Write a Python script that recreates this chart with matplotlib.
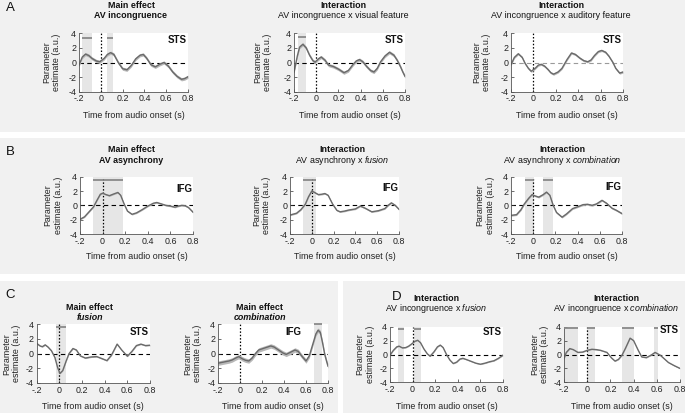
import matplotlib
matplotlib.use("Agg")
import numpy as np
import matplotlib.pyplot as plt
from matplotlib.patches import Rectangle

plt.rcParams['font.family'] = ['Liberation Sans', 'DejaVu Sans']
plt.rcParams['mathtext.fontset'] = 'custom'
plt.rcParams['mathtext.rm'] = 'Liberation Sans'
plt.rcParams['mathtext.it'] = 'Liberation Sans:italic'
plt.rcParams['mathtext.bf'] = 'Liberation Sans:bold'

# ---------------- data ----------------
XTICKS = [-0.2, 0, 0.2, 0.4, 0.6, 0.8]
XTICKLABELS = ['-.2', '0', '0.2', '0.4', '0.6', '0.8']
YTICKS = [-4, -2, 0, 2, 4]
YTICKLABELS = ['-4', '-2', '0', '2', '4']

A1_t = [-0.2, -0.17, -0.14, -0.11, -0.08, -0.04, -0.01, 0.03, 0.06, 0.09, 0.12, 0.16, 0.2, 0.24, 0.28,
        0.32, 0.36, 0.39, 0.42, 0.46, 0.5, 0.54, 0.58, 0.62, 0.66, 0.7, 0.74, 0.77, 0.8]
A1_y = [-0.35, 0.75, 1.15, 0.95, 0.55, 0.2, 0.1, 0.55, 1.1, 1.35, 1.1, 0.0, -0.85, -1.0, -0.4,
        0.5, 1.0, 1.1, 0.6, -0.3, -0.6, -0.25, 0.0, -0.5, -1.3, -1.9, -2.3, -2.2, -1.95]
A1_sig = [(-0.175, -0.085), (0.061, 0.115)]

A2_t = [-0.2, -0.19, -0.17, -0.15, -0.12, -0.09, -0.06, -0.03, -0.01, 0.02, 0.045, 0.08, 0.11, 0.155,
        0.2, 0.25, 0.29, 0.33, 0.36, 0.39, 0.42, 0.455, 0.49, 0.52, 0.55, 0.58, 0.62, 0.66, 0.7,
        0.73, 0.76, 0.78, 0.8]
A2_y = [-1.3, -0.6, 0.9, 2.1, 2.5, 2.0, 1.0, 0.25, 0.05, 0.5, 0.75, 0.3, -0.35, -0.55,
        -0.9, -1.4, -1.1, -0.3, 0.2, 0.4, 0.1, -0.55, -1.1, -1.3, -0.8, 0.1, 0.9, 1.4, 1.0,
        0.3, -0.6, -1.3, -1.9]
A2_sig = [(-0.165, -0.093)]

A3_t = [-0.2, -0.17, -0.135, -0.1, -0.075, -0.045, -0.02, 0.015, 0.045, 0.07, 0.1, 0.13, 0.155, 0.18,
        0.22, 0.255, 0.3, 0.34, 0.375, 0.415, 0.45, 0.485, 0.515, 0.545, 0.58, 0.61, 0.645, 0.675,
        0.71, 0.735, 0.77, 0.8]
A3_y = [-0.3, 0.7, 1.2, 0.7, -0.1, -0.8, -1.2, -0.8, -0.35, -0.25, -0.5, -0.95, -1.4, -1.6,
        -1.3, -0.8, 0.4, 1.3, 1.1, 0.6, 0.25, 0.1, 0.35, 0.95, 1.5, 1.65, 1.4, 0.85,
        0.0, -0.8, -1.45, -1.3]
A3_sig = []

B1_t = [-0.2, -0.16, -0.12, -0.08, -0.05, -0.02, 0.0, 0.03, 0.06, 0.1, 0.135, 0.16, 0.19, 0.22, 0.26,
        0.3, 0.35, 0.4, 0.45, 0.48, 0.52, 0.56, 0.6, 0.64, 0.67, 0.7, 0.73, 0.76, 0.8]
B1_y = [-1.95, -1.6, -0.9, -0.2, 0.7, 1.55, 1.7, 1.5, 1.35, 1.6, 1.8, 1.4, 0.2, -0.8, -1.25,
        -1.05, -0.6, -0.1, 0.3, 0.4, 0.2, 0.0, -0.1, -0.25, -0.1, 0.0, -0.05, -0.3, -0.95]
B1_sig = [(-0.082, 0.179)]

B2_t = [-0.2, -0.14, -0.1, -0.06, -0.03, 0.0, 0.02, 0.06, 0.09, 0.12, 0.15, 0.19, 0.23, 0.26, 0.3,
        0.34, 0.4, 0.445, 0.49, 0.55, 0.61, 0.67, 0.7, 0.73, 0.765, 0.8]
B2_y = [-1.35, -1.1, -0.6, 0.15, 1.2, 2.0, 1.85, 1.5, 1.55, 1.65, 1.4, 0.2, -0.7, -0.9, -0.8,
        -0.65, -0.5, -0.1, -0.4, -0.9, -0.75, -0.45, 0.0, 0.35, 0.0, -0.55]
B2_sig = [(-0.083, 0.037)]

B3_t = [-0.2, -0.15, -0.11, -0.08, -0.04, -0.01, 0.02, 0.05, 0.09, 0.12, 0.15, 0.18, 0.21, 0.26, 0.3,
        0.355, 0.4, 0.45, 0.49, 0.53, 0.57, 0.62, 0.66, 0.71, 0.75, 0.8]
B3_y = [-1.4, -1.3, -0.6, 0.2, 1.0, 1.5, 1.3, 1.15, 1.5, 1.85, 1.4, 0.0, -1.0, -1.65, -1.2,
        -0.45, -0.2, 0.1, 0.15, 0.0, 0.2, 0.7, 0.3, -0.4, -0.7, -1.15]
B3_sig = [(-0.07, 0.005), (0.085, 0.178)]

C1_t = [-0.2, -0.17, -0.15, -0.125, -0.1, -0.07, -0.04, -0.015, 0.005, 0.03, 0.06, 0.085, 0.12, 0.15,
        0.185, 0.23, 0.28, 0.33, 0.38, 0.42, 0.46, 0.51, 0.55, 0.6, 0.64, 0.68, 0.72, 0.76, 0.8]
C1_y = [1.4, 1.05, 0.95, 1.2, 0.9, 0.4, -0.5, -1.9, -2.7, -2.3, -1.0, 0.0, 0.7, 0.5,
        -0.3, -0.6, -0.45, -0.4, -0.7, -0.95, -0.2, 1.3, 0.5, -0.35, 0.3, 1.1, 1.3, 1.1, 1.15]
C1_sig = [(-0.03, 0.06)]

C2_t = [-0.2, -0.15, -0.1, -0.07, -0.04, -0.01, 0.02, 0.05, 0.08, 0.11, 0.14, 0.17, 0.21, 0.25, 0.28,
        0.31, 0.35, 0.39, 0.42, 0.46, 0.5, 0.53, 0.56, 0.6, 0.63, 0.66, 0.69, 0.71, 0.73, 0.75,
        0.77, 0.79, 0.8]
C2_y = [-1.3, -1.15, -1.0, -0.85, -0.6, -0.4, -0.7, -0.9, -1.0, -0.6, 0.0, 0.5, 0.7, 0.9, 1.05,
        0.9, 0.5, 0.1, -0.1, 0.2, 0.5, 0.3, -0.3, -1.0, -0.3, 1.2, 2.7, 3.2, 2.9, 1.5,
        -0.1, -1.2, -1.7]
C2_sig = [(0.673, 0.744)]

D1_t = [-0.2, -0.17, -0.14, -0.12, -0.09, -0.06, -0.035, -0.01, 0.02, 0.045, 0.07, 0.1, 0.13, 0.155,
        0.19, 0.22, 0.245, 0.27, 0.3, 0.33, 0.36, 0.39, 0.42, 0.445, 0.48, 0.52, 0.56, 0.6, 0.64,
        0.68, 0.72, 0.76, 0.8]
D1_y = [-0.1, 0.6, 1.1, 1.2, 0.95, 1.0, 1.2, 1.5, 1.9, 2.05, 1.7, 0.8, 0.1, -0.25,
        0.4, 1.1, 1.35, 1.0, 0.0, -0.8, -1.3, -1.1, -0.65, -0.55, -0.75, -1.0, -1.25, -1.4, -1.25,
        -1.05, -0.9, -0.55, -0.1]
D1_sig = [(-0.132, -0.079), (0.009, 0.073)]

D2_t = [-0.2, -0.18, -0.15, -0.12, -0.08, -0.04, 0.0, 0.04, 0.08, 0.115, 0.17, 0.21, 0.24, 0.27, 0.3,
        0.33, 0.37, 0.4, 0.44, 0.47, 0.51, 0.55, 0.585, 0.63, 0.67, 0.7, 0.75, 0.8]
D2_y = [-0.6, 0.3, 0.85, 0.7, 0.3, 0.35, 0.6, 0.75, 0.7, 0.6, 0.3, -0.5, -0.95, -0.7, -0.1,
        0.9, 2.35, 2.0, 0.6, -0.35, -0.45, -0.1, 0.3, -0.1, -0.7, -1.15, -1.6, -2.0]
D2_sig = [(-0.2, -0.08), (0.0, 0.07), (0.3, 0.405), (0.577, 0.614)]

# ---------------- layout (pixels) ----------------
W, H = 685, 413
fig = plt.figure(figsize=(W / 100, H / 100), dpi=100, facecolor='white')

BG = '#f1f1f1'
for (x0, y0, x1, y1) in [(0, 0, 685, 132), (0, 138, 685, 274), (0, 281, 338, 413), (343, 281, 685, 413)]:
    fig.patches.append(Rectangle((x0 / W, 1 - y1 / H), (x1 - x0) / W, (y1 - y0) / H,
                                 transform=fig.transFigure, facecolor=BG, edgecolor='none', zorder=-10))

FS = 6.4
panels = [
    dict(t=A1_t, y=A1_y, sig=A1_sig, sem=0.22, bary=3.35, box=(79, 188, 33.3, 91.7),
         l1='Main effect', l2='AV incongruence', l2bold=True, tx=131, ty=(5, 15),
         roi='STS', roiy=40, ylx=51.7, xly=115.7, zc='black'),
    dict(t=A2_t, y=A2_y, sig=A2_sig, sem=0.22, bary=3.45, box=(294, 405, 33.3, 91.7),
         l1='Interaction', l2='AV incongruence x visual feature', l2bold=False, tx=343, ty=(5, 15),
         roi='STS', roiy=40, ylx=262.5, xly=115.7, zc='black'),
    dict(t=A3_t, y=A3_y, sig=A3_sig, sem=0.15, bary=3.45, box=(511, 623, 33.3, 91.7),
         l1='Interaction', l2='AV incongruence x auditory feature', l2bold=False, tx=561, ty=(5, 15),
         roi='STS', roiy=40, ylx=481.7, xly=115.7, zc='#9a9a9a'),
    dict(t=B1_t, y=B1_y, sig=B1_sig, sem=0.1, bary=3.6, box=(80, 193, 176.7, 234),
         l1='Main effect', l2='AV asynchrony', l2bold=True, tx=131, ty=(150, 160),
         roi='IFG', roiy=189, ylx=53.3, xly=256.7, zc='black'),
    dict(t=B2_t, y=B2_y, sig=B2_sig, sem=0.1, bary=3.6, box=(290, 399, 176.7, 234),
         l1='Interaction', l2=r'AV asynchrony x $\it{fusion}$', l2bold=False, tx=342, ty=(150, 160),
         roi='IFG', roiy=188, ylx=261.7, xly=256.7, zc='black'),
    dict(t=B3_t, y=B3_y, sig=B3_sig, sem=0.12, bary=3.6, box=(511, 622, 176.7, 234),
         l1='Interaction', l2=r'AV asynchrony x $\it{combination}$', l2bold=False, tx=562, ty=(150, 160),
         roi='IFG', roiy=187, ylx=485, xly=256.7, zc='black'),
    dict(t=C1_t, y=C1_y, sig=C1_sig, sem=0.08, bary=3.6, box=(36.7, 150, 324.3, 383),
         l1='Main effect', l2='fusion', l2bold=True, l2it=True, tx=90, ty=(307.7, 317.7),
         roi='STS', roiy=331.7, ylx=11.7, xly=406.7, zc='black'),
    dict(t=C2_t, y=C2_y, sig=C2_sig, sem=0.3, bary=4.0, box=(218, 328, 324.3, 383),
         l1='Main effect', l2='combination', l2bold=True, l2it=True, tx=260, ty=(307.7, 317.7),
         roi='IFG', roiy=331.7, roix=301.7, ylx=192.5, xly=406.7, zc='black'),
    dict(t=D1_t, y=D1_y, sig=D1_sig, sem=0.06, bary=3.7, box=(390, 503, 326.7, 382.3),
         l1='Interaction', l2=r'AV incongruence x $\it{fusion}$', l2bold=False, tx=436, ty=(298.3, 308.3),
         roi='STS', roiy=331.7, ylx=365, xly=406.7, zc='black'),
    dict(t=D2_t, y=D2_y, sig=D2_sig, sem=0.06, bary=3.85, box=(564, 680, 326.7, 382.3),
         l1='Interaction', l2=r'AV incongruence x $\it{combination}$', l2bold=False, tx=616, ty=(298.3, 308.3),
         roi='STS', roiy=330, ylx=539.5, xly=406.7, zc='black'),
]

for p in panels:
    x0, x1, yt, yb = p['box']
    ax = fig.add_axes([x0 / W, 1 - yb / H, (x1 - x0) / W, (yb - yt) / H])
    ax.set_facecolor('white')
    ax.set_xlim(-0.2, 0.8)
    ax.set_ylim(-4, 4)
    for s in ['top', 'right']:
        ax.spines[s].set_visible(False)
    for s in ['left', 'bottom']:
        ax.spines[s].set_color('#555555')
        ax.spines[s].set_linewidth(0.6)
    ax.set_xticks(XTICKS)
    ax.set_xticklabels(XTICKLABELS)
    ax.set_yticks(YTICKS)
    ax.set_yticklabels(YTICKLABELS)
    ax.tick_params(direction='in', length=2, width=0.5, labelsize=FS, pad=2, colors='#333333',
                   labelcolor='#222222')

    for (a, b) in p['sig']:
        ax.axvspan(a, b, color='#e6e6e6', lw=0, zorder=0)
        ax.plot([a, b], [p['bary'], p['bary']], color='#8a8a8a', lw=1.3, solid_capstyle='butt',
                zorder=3, clip_on=False)

    ax.axhline(0, color=p['zc'], lw=0.8, ls=(0, (4, 3)), zorder=1)
    ax.axvline(0, color='black', lw=0.9, ls=(0, (1.2, 1.5)), zorder=1)

    t = np.array(p['t'])
    y = np.array(p['y'])
    ax.fill_between(t, y - p['sem'], y + p['sem'], color='#b8b8b8', lw=0, zorder=2)
    ax.plot(t, y, color='#6a6a6a', lw=1.0, zorder=2.5)

    roix = p.get('roix', x1 - 1)
    ax.text((roix - x0) / (x1 - x0), 1 - (p['roiy'] - yt) / (yb - yt), p['roi'], transform=ax.transAxes,
            ha='right', va='center', fontsize=7, fontweight='bold', color='#111111')

    ax.set_ylabel('Parameter\nestimate (a.u.)', fontsize=FS, color='#222222', va='center', ha='center')
    ax.yaxis.set_label_coords((p['ylx'] - x0) / (x1 - x0), 0.5)
    ax.set_xlabel('Time from audio onset (s)', fontsize=FS, color='#222222', va='center')
    ax.xaxis.set_label_coords(0.5, -(p['xly'] - yb) / (yb - yt))

    fig.text(p['tx'] / W, 1 - p['ty'][0] / H, p['l1'], ha='center', va='center', fontsize=FS,
             fontweight='bold', color='#111111')
    fig.text(p['tx'] / W, 1 - p['ty'][1] / H, p['l2'], ha='center', va='center', fontsize=FS,
             fontweight='bold' if p['l2bold'] else 'normal',
             style='italic' if p.get('l2it') else 'normal', color='#111111')

for lab, (lx, ly) in [('A', (10, 8)), ('B', (10, 152)), ('C', (10, 295)), ('D', (397, 297))]:
    fig.text(lx / W, 1 - ly / H, lab, ha='center', va='center', fontsize=9.5, color='#111111')

fig.savefig('out.png', dpi=100, facecolor=fig.get_facecolor())
